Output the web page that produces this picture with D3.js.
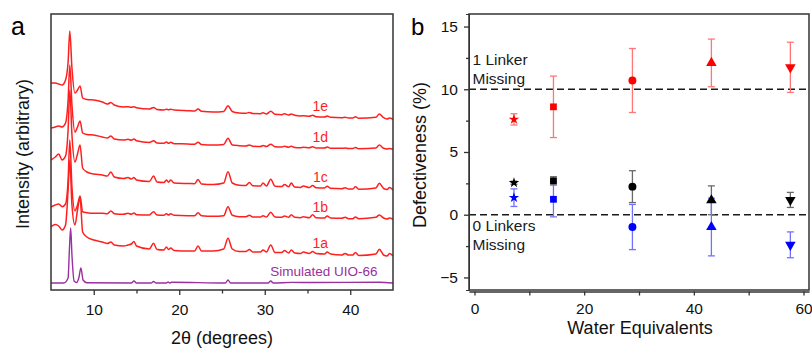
<!DOCTYPE html>
<html>
<head>
<meta charset="utf-8">
<script src="https://cdn.jsdelivr.net/npm/d3@7"></script>
<style>
	body { margin: 0; background: #fff; }
	svg { display: block; font-family: "Liberation Sans", Arial, sans-serif; }
</style>
</head>
<body>
<div id="chart"></div>
<script>

///////////////////////////////////////////////////////////////////////////
////////////////////////////// The data ///////////////////////////////////
///////////////////////////////////////////////////////////////////////////

	//Panel a - powder patterns (arbitrary intensity, stacked)
	var twoTheta = [5.0, 5.5, 5.9, 6.3, 6.7, 7.0, 7.2, 7.45, 7.8, 8.1, 8.4, 8.7, 9.2, 10.0, 11.0, 11.6, 12.0, 12.4,
		13.5, 14.0, 14.4, 14.7, 15.0, 16.5, 17.0, 17.4, 18.2, 18.5, 18.75, 19.0, 19.4, 21.0, 21.8, 22.2, 22.6,
		24.0, 25.2, 25.7, 26.2, 27.0, 27.8, 28.2, 28.6, 29.5, 29.8, 30.2, 30.7, 31.2, 32.0, 32.3, 32.8, 33.1,
		33.5, 34.2, 34.5, 35.2, 35.6, 36.0, 37.0, 37.3, 37.7, 39.0, 39.4, 39.8, 40.3, 40.6, 41.0, 43.0, 43.4,
		43.9, 44.3, 44.6, 45.0];

	var pattern1e = [207, 207, 206, 205, 210, 228, 259, 222, 197, 200, 204, 192, 190.5, 190, 188, 186, 187.5, 185,
		183, 183.3, 182.7, 183.3, 182.3, 181, 182.5, 180.5, 180, 180.8, 180.3, 180.8, 180, 179.3, 179, 181, 178.8,
		178, 178.5, 184.3, 178.5, 177, 176.7, 177.5, 176.5, 176.3, 177.3, 176, 178.7, 175.7, 175.3, 176.3, 175, 176,
		174.7, 174, 174.3, 173.7, 174.7, 173.3, 173, 174, 172.7, 172.3, 172.7, 172, 172, 173.3, 171.7, 172.7, 176,
		172.3, 171, 172, 170.5];
	var pattern1d = [162, 163, 164, 163, 167, 190, 225, 185, 158, 163, 169, 157, 155.5, 155, 153, 152, 154, 151,
		150, 150.7, 149.7, 151, 149.3, 147.5, 149.3, 147, 146.7, 148, 146.7, 147.7, 146.3, 146, 145.7, 147.7, 145.5,
		145, 145.5, 151.7, 145, 144.3, 144, 145, 143.8, 143.5, 144.5, 143.5, 145.7, 143.3, 143, 143.8, 142.8, 143.8,
		142.6, 142.3, 142.7, 142.2, 143.3, 142, 142, 143, 141.8, 141.7, 142, 141.4, 141.4, 142.6, 141.2, 142, 145,
		141.7, 141, 141.5, 140.8];
	var pattern1c = [130, 133, 136, 130, 134, 160, 200, 155, 128, 136, 145, 122, 118, 116, 115, 114, 118, 113,
		111.5, 112.5, 111, 112.5, 110, 108.5, 114, 108, 107.5, 110, 107.8, 110, 107, 106.5, 106.3, 110.5, 106,
		105.5, 107, 118.3, 107, 104.8, 104.6, 107.5, 104.3, 104, 107, 104, 110.7, 103.8, 103.5, 105.5, 103.2, 107,
		103, 102.6, 104, 102.4, 104.5, 102.2, 102, 103.8, 101.7, 101.3, 102.3, 101, 101, 103.3, 100.8, 102, 106.7,
		101.5, 100.5, 102.5, 100];
	var pattern1b = [83.3, 85, 86, 83.3, 86, 110, 150, 103, 79.3, 85, 94, 78.3, 77.3, 76.7, 76.7, 76.3, 79, 76.3,
		75.7, 76.7, 75.7, 77, 75.3, 75, 78.3, 75, 74.7, 76.3, 75, 76.3, 74.7, 74.3, 74.3, 77.3, 74.3,
		73.7, 74.3, 83.3, 74.7, 73.3, 73.3, 74.7, 73, 73, 74.3, 73, 77.7, 73, 72.7, 74, 72.7, 75.3,
		72.7, 72.3, 73.3, 72.3, 75.3, 72.3, 72, 74, 72, 71.7, 72.7, 71.3, 71.3, 73, 71.3, 72.7, 75,
		72, 71, 72, 70.7];
	var pattern1a = [63.3, 65.5, 64, 60, 65, 100, 130, 85, 65, 80, 92, 58, 53, 50, 48, 46.5, 48, 45,
		44, 45, 46, 48.5, 44, 41, 46.7, 40.5, 40, 43, 40.5, 42, 39.5, 39, 39, 44, 39,
		39, 41, 51.7, 41, 38.5, 38.5, 40.5, 38, 38, 40, 38, 45, 37.5, 37.5, 39.5, 37, 40,
		37, 36.5, 38, 36.5, 38.5, 36.5, 36, 38, 36, 35, 36.5, 35, 35, 37.5, 34.5, 36, 40.7,
		35, 34, 36.5, 34];

	//Simulated pattern has its own sampling
	var simTheta = [5, 6.5, 7.0, 7.15, 7.3, 7.45, 7.7, 8.0, 8.25, 8.5, 8.75, 9.2, 14.4, 14.7, 15.0, 16.7, 17.0, 17.3,
		18.5, 18.7, 18.9, 19.1, 25.4, 25.7, 26.0, 30.4, 30.7, 31.0, 33.1, 35.6, 43.4, 45];
	var simIntensity = [7, 7, 12, 40, 62, 35, 9, 7.5, 12, 22, 10, 7.2, 7, 9, 7, 7, 8.5, 7,
		7, 8, 7, 7.8, 7, 10, 7, 7, 9, 7, 7.6, 7.5, 7.8, 7];

	var patternNames = ["1e", "1d", "1c", "1b", "1a"];
	var patterns = [pattern1e, pattern1d, pattern1c, pattern1b, pattern1a];

	//Panel b - defectiveness against water equivalents
	var waterEq = [7.2, 14.4, 28.8, 43.2, 57.6];
	var shapes = ["star", "square", "circle", "triangle", "triangleDown"];
	var redValues = [7.6, 8.6, 10.7, 12.1, 11.75],
		redErrors = [0.45, 2.45, 2.55, 1.9, 2.0];
	var blackValues = [2.55, 2.7, 2.24, 1.15, 1.18],
		blackErrors = [0.12, 0.33, 1.27, 1.15, 0.6];
	var blueValues = [1.36, 1.23, -0.98, -0.98, -2.4],
		blueErrors = [0.7, 1.4, 1.8, 2.3, 1.03];
	var referenceLines = [10, 0];

///////////////////////////////////////////////////////////////////////////
///////////////////////////// Set up the SVG //////////////////////////////
///////////////////////////////////////////////////////////////////////////

	var width = 812,
		height = 348;

	var svg = d3.select("#chart").append("svg")
		.attr("width", width)
		.attr("height", height);

	var frameA = {left: 51, right: 393, top: 14, bottom: 290},
		frameB = {left: 469, right: 809, top: 14, bottom: 290};

	var axisColor = "#333",
		redLine = "#ff1f1f",
		purple = "#9a2f9e";

///////////////////////////////////////////////////////////////////////////
/////////////////////////////// Panel a ///////////////////////////////////
///////////////////////////////////////////////////////////////////////////

	var xA = d3.scaleLinear().domain([5, 45]).range([frameA.left, frameA.right]),
		yA = d3.scaleLinear().domain([0, 276]).range([frameA.bottom, frameA.top]);

	var wrapA = svg.append("g").attr("class", "panelA");

	//Clip the patterns to the frame
	wrapA.append("clipPath").attr("id", "clipA")
		.append("rect")
		.attr("x", frameA.left)
		.attr("y", frameA.top)
		.attr("width", frameA.right - frameA.left)
		.attr("height", frameA.bottom - frameA.top);

	var lineA = d3.line()
		.curve(d3.curveMonotoneX)
		.x(function(d) { return xA(d[0]); })
		.y(function(d) { return yA(d[1]); });

	var curves = wrapA.append("g").attr("clip-path", "url(#clipA)");

	curves.append("path")
		.datum(d3.zip(simTheta, simIntensity))
		.attr("d", lineA)
		.style("fill", "none")
		.style("stroke", purple)
		.style("stroke-width", 1.4);

	patterns.forEach(function(p) {
		curves.append("path")
			.datum(d3.zip(twoTheta, p))
			.attr("d", lineA)
			.style("fill", "none")
			.style("stroke", redLine)
			.style("stroke-width", 1.5)
			.style("stroke-linejoin", "round");
	});

	//Sample labels, just above each trace
	var labelTheta = 36.5;
	var labelIndex = d3.bisectLeft(twoTheta, 37.0);
	patternNames.forEach(function(name, i) {
		wrapA.append("text")
			.attr("x", xA(labelTheta))
			.attr("y", yA(patterns[i][labelIndex]) - 6)
			.style("text-anchor", "middle")
			.attr("fill", redLine)
			.style("font-size", "14px")
			.text(name);
	});
	wrapA.append("text")
		.attr("x", xA(43.2))
		.attr("y", yA(simIntensity[0]) - 7)
		.style("text-anchor", "end")
		.attr("fill", purple)
		.style("font-size", "13.5px")
		.text("Simulated UIO-66");

	//Axes
	wrapA.append("g")
		.attr("transform", "translate(0," + frameA.bottom + ")")
		.call(d3.axisBottom(xA).tickValues([10, 20, 30, 40]).tickSize(5).tickSizeOuter(0).tickPadding(9));
	wrapA.append("g")
		.attr("transform", "translate(0," + frameA.bottom + ")")
		.call(d3.axisBottom(xA).tickValues([15, 25, 35]).tickSize(3.5).tickFormat(""));

	wrapA.append("rect")
		.attr("x", frameA.left)
		.attr("y", frameA.top)
		.attr("width", frameA.right - frameA.left)
		.attr("height", frameA.bottom - frameA.top)
		.style("fill", "none")
		.style("stroke", axisColor)
		.style("stroke-width", 1.5);

	wrapA.append("text")
		.attr("x", (frameA.left + frameA.right) / 2)
		.attr("y", 344)
		.style("text-anchor", "middle")
		.attr("fill", "#111")
		.style("font-size", "18px")
		.text("2\u03B8 (degrees)");

	wrapA.append("text")
		.attr("transform", "translate(28.5," + ((frameA.top + frameA.bottom) / 2 + 2) + ") rotate(-90)")
		.style("text-anchor", "middle")
		.attr("fill", "#111")
		.style("font-size", "18px")
		.text("Intensity (arbitrary)");

	wrapA.append("text")
		.attr("x", 11)
		.attr("y", 35)
		.attr("fill", "#000")
		.style("font-size", "25px")
		.text("a");

///////////////////////////////////////////////////////////////////////////
/////////////////////////////// Panel b ///////////////////////////////////
///////////////////////////////////////////////////////////////////////////

	var xB = d3.scaleLinear().domain([-1, 61]).range([frameB.left, frameB.right]),
		yB = d3.scaleLinear().domain([-6, 16]).range([frameB.bottom, frameB.top]);

	var wrapB = svg.append("g").attr("class", "panelB");

	//Dashed reference lines
	wrapB.selectAll(".refLine")
		.data(referenceLines)
		.enter().append("line")
		.attr("class", "refLine")
		.attr("x1", frameB.left)
		.attr("x2", frameB.right)
		.attr("y1", function(d) { return yB(d); })
		.attr("y2", function(d) { return yB(d); })
		.style("stroke", "#1a1a1a")
		.style("stroke-width", 1.6)
		.style("stroke-dasharray", "7,4");

	var series = [
		{values: blackValues, errors: blackErrors, color: "#000", errColor: "#6a6a6a"},
		{values: blueValues, errors: blueErrors, color: "#0000ff", errColor: "#7272ff"},
		{values: redValues, errors: redErrors, color: "#ff0000", errColor: "#ff7676"}
	];

	var symbolOf = {
		star: {type: d3.symbolStar, size: 34, rotate: 0},
		square: {type: d3.symbolSquare, size: 46, rotate: 0},
		circle: {type: d3.symbolCircle, size: 50, rotate: 0},
		triangle: {type: d3.symbolTriangle, size: 48, rotate: 0},
		triangleDown: {type: d3.symbolTriangle, size: 48, rotate: 180}
	};

	//Error bars first, markers on top
	var capHalf = 3.5;
	series.forEach(function(s) {
		var g = wrapB.append("g").style("stroke", s.errColor).style("stroke-width", 1.3);
		waterEq.forEach(function(w, i) {
			var lo = yB(s.values[i] - s.errors[i]),
				hi = yB(s.values[i] + s.errors[i]),
				cx = xB(w);
			g.append("line").attr("x1", cx).attr("x2", cx).attr("y1", lo).attr("y2", hi);
			g.append("line").attr("x1", cx - capHalf).attr("x2", cx + capHalf).attr("y1", lo).attr("y2", lo);
			g.append("line").attr("x1", cx - capHalf).attr("x2", cx + capHalf).attr("y1", hi).attr("y2", hi);
		});
	});

	[series[1], series[0], series[2]].forEach(function(s) {
		waterEq.forEach(function(w, i) {
			var sym = symbolOf[shapes[i]];
			wrapB.append("path")
				.attr("d", d3.symbol().type(sym.type).size(sym.size)())
				.attr("transform", "translate(" + xB(w) + "," + yB(s.values[i]) + ") rotate(" + sym.rotate + ")")
				.style("fill", s.color);
		});
	});

	//Region labels
	var regionText = [["1 Linker", "Missing"], ["0 Linkers", "Missing"]];
	regionText.forEach(function(lines, i) {
		var top = (i === 0) ? yB(referenceLines[0]) - 24.5 : yB(referenceLines[1]) + 16.5;
		lines.forEach(function(t, j) {
			wrapB.append("text")
				.attr("x", frameB.left + 3.5)
				.attr("y", top + j * 19)
				.attr("fill", "#1a1a1a")
				.style("font-size", "15.5px")
				.text(t);
		});
	});

	//Axes
	wrapB.append("g")
		.attr("transform", "translate(" + frameB.left + ",0)")
		.call(d3.axisLeft(yB).tickValues([-5, 0, 5, 10, 15]).tickSize(5).tickSizeOuter(0).tickPadding(6));
	wrapB.append("g")
		.attr("transform", "translate(" + frameB.left + ",0)")
		.call(d3.axisLeft(yB).tickValues([-2.5, 2.5, 7.5, 12.5]).tickSize(3).tickFormat(""));
	wrapB.append("g")
		.attr("transform", "translate(0," + (frameB.bottom + 1.5) + ")")
		.call(d3.axisBottom(xB).tickValues([0, 20, 40, 60]).tickSize(4).tickSizeOuter(0).tickPadding(7));
	wrapB.append("g")
		.attr("transform", "translate(0," + (frameB.bottom + 1.5) + ")")
		.call(d3.axisBottom(xB).tickValues([10, 30, 50]).tickSize(4).tickSizeOuter(0).tickFormat(""));

	wrapB.append("rect")
		.attr("x", frameB.left)
		.attr("y", frameB.top)
		.attr("width", frameB.right - frameB.left)
		.attr("height", frameB.bottom - frameB.top)
		.style("fill", "none")
		.style("stroke", axisColor)
		.style("stroke-width", 1.5);

	wrapB.append("text")
		.attr("x", 640)
		.attr("y", 334)
		.style("text-anchor", "middle")
		.attr("fill", "#111")
		.style("font-size", "18px")
		.text("Water Equivalents");

	wrapB.append("text")
		.attr("transform", "translate(426," + ((frameB.top + frameB.bottom) / 2 + 3) + ") rotate(-90)")
		.style("text-anchor", "middle")
		.attr("fill", "#111")
		.style("font-size", "18px")
		.text("Defectiveness (%)");

	wrapB.append("text")
		.attr("x", 411)
		.attr("y", 35)
		.attr("fill", "#000")
		.style("font-size", "24px")
		.text("b");

	//Tick styling for both panels
	svg.selectAll(".tick text")
		.attr("fill", "#111")
		.style("font-size", "15.5px")
		.style("font-family", "\"Liberation Sans\", Arial, sans-serif");
	svg.selectAll(".tick line").style("stroke", axisColor).style("stroke-width", 1.3);
	svg.selectAll(".domain").style("stroke", axisColor).style("stroke-width", 1);
	wrapA.selectAll(".domain").remove();

</script>
</body>
</html>
